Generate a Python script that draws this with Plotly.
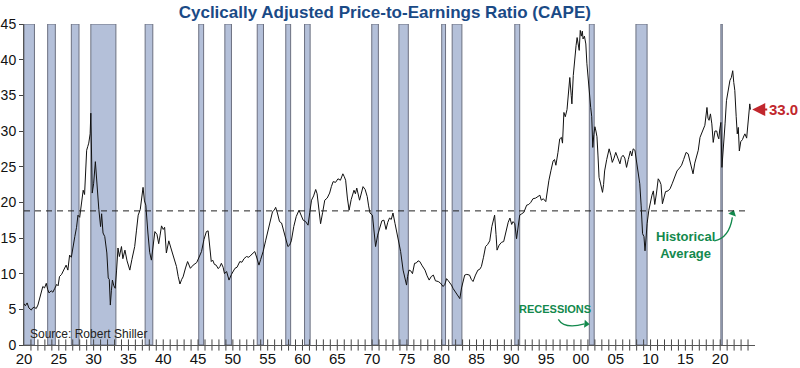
import plotly.graph_objects as go

# ---------------- data ----------------
years = [
    1920.0, 1920.2, 1920.45, 1920.7, 1921.05, 1921.25, 1921.5, 1921.75, 1922.0, 1922.3,
    1922.5, 1922.7, 1922.95, 1923.2, 1923.4, 1923.6, 1923.9, 1924.15, 1924.4, 1924.7,
    1924.9, 1925.1, 1925.4, 1925.6, 1925.85, 1926.05, 1926.3, 1926.55, 1926.8, 1927.05,
    1927.3, 1927.55, 1927.75, 1928.0, 1928.25, 1928.5, 1928.7, 1928.85, 1929.0, 1929.15,
    1929.3, 1929.5, 1929.6, 1929.8, 1930.0, 1930.25, 1930.5, 1930.75, 1931.0, 1931.15,
    1931.35, 1931.6, 1931.9, 1932.1, 1932.25, 1932.4, 1932.55, 1932.7, 1932.9, 1933.1,
    1933.3, 1933.5, 1933.7, 1934.0, 1934.2, 1934.5, 1934.8, 1935.2, 1935.5, 1935.9,
    1936.15, 1936.4, 1936.7, 1936.9, 1937.1, 1937.3, 1937.5, 1937.8, 1938.05, 1938.3,
    1938.55, 1938.8, 1939.1, 1939.35, 1939.55, 1939.75, 1940.0, 1940.2, 1940.45, 1940.8,
    1941.1, 1941.4, 1941.65, 1941.9, 1942.15, 1942.4, 1942.65, 1942.85, 1943.2, 1943.5,
    1943.9, 1944.3, 1944.8, 1945.15, 1945.5, 1945.85, 1946.2, 1946.45, 1946.65, 1946.9,
    1947.1, 1947.35, 1947.6, 1947.9, 1948.15, 1948.35, 1948.6, 1948.8, 1949.1, 1949.45,
    1949.8, 1950.05, 1950.3, 1950.6, 1951.0, 1951.3, 1951.6, 1951.95, 1952.3, 1952.6,
    1952.9, 1953.15, 1953.45, 1953.75, 1954.0, 1954.35, 1954.7, 1955.05, 1955.4, 1955.7,
    1955.95, 1956.15, 1956.4, 1956.7, 1957.0, 1957.3, 1957.6, 1957.9, 1958.15, 1958.4,
    1958.75, 1959.1, 1959.5, 1959.8, 1960.1, 1960.45, 1960.8, 1961.05, 1961.3, 1961.6,
    1961.9, 1962.1, 1962.35, 1962.6, 1962.9, 1963.2, 1963.55, 1963.9, 1964.15, 1964.4,
    1964.75, 1965.1, 1965.45, 1965.8, 1966.0, 1966.2, 1966.45, 1966.7, 1967.0, 1967.4,
    1967.6, 1967.8, 1968.2, 1968.45, 1968.7, 1969.0, 1969.3, 1969.5, 1969.7, 1970.05,
    1970.3, 1970.5, 1970.8, 1971.1, 1971.4, 1971.7, 1972.0, 1972.25, 1972.5, 1972.75,
    1973.0, 1973.3, 1973.6, 1973.85, 1974.1, 1974.45, 1974.7, 1974.95, 1975.1, 1975.3,
    1975.55, 1975.8, 1976.1, 1976.35, 1976.6, 1976.85, 1977.2, 1977.6, 1977.9, 1978.2,
    1978.5, 1978.8, 1979.1, 1979.5, 1979.8, 1980.2, 1980.45, 1980.7, 1980.95, 1981.2,
    1981.4, 1981.65, 1981.9, 1982.1, 1982.35, 1982.6, 1982.85, 1983.05, 1983.3, 1983.6,
    1984.0, 1984.25, 1984.5, 1984.85, 1985.2, 1985.45, 1985.7, 1986.0, 1986.3, 1986.6,
    1986.9, 1987.2, 1987.6, 1987.8, 1987.95, 1988.25, 1988.6, 1988.9, 1989.3, 1989.55,
    1989.8, 1990.05, 1990.25, 1990.5, 1990.75, 1990.95, 1991.2, 1991.5, 1991.8, 1992.2,
    1992.5, 1992.8, 1993.1, 1993.5, 1993.85, 1994.1, 1994.3, 1994.6, 1994.95, 1995.15,
    1995.4, 1995.7, 1996.0, 1996.2, 1996.4, 1996.7, 1996.95, 1997.2, 1997.35, 1997.55,
    1997.75, 1998.0, 1998.2, 1998.4, 1998.6, 1998.7, 1998.9, 1999.1, 1999.3, 1999.45,
    1999.6, 1999.75, 1999.9, 2000.05, 2000.2, 2000.3, 2000.5, 2000.7, 2000.85, 2001.0,
    2001.2, 2001.4, 2001.55, 2001.7, 2001.85, 2002.0, 2002.15, 2002.3, 2002.45, 2002.6,
    2002.8, 2003.1, 2003.25, 2003.4, 2003.7, 2004.05, 2004.3, 2004.5, 2004.75, 2005.0,
    2005.3, 2005.6, 2005.8, 2006.05, 2006.3, 2006.55, 2006.8, 2007.1, 2007.3, 2007.5,
    2007.75, 2007.9, 2008.05, 2008.25, 2008.45, 2008.65, 2008.85, 2009.05, 2009.2, 2009.35,
    2009.5, 2009.75, 2010.0, 2010.2, 2010.4, 2010.6, 2010.85, 2011.1, 2011.3, 2011.5,
    2011.7, 2011.9, 2012.15, 2012.5, 2012.8, 2013.1, 2013.5, 2013.8, 2014.15, 2014.45,
    2014.75, 2015.1, 2015.4, 2015.65, 2015.85, 2016.1, 2016.35, 2016.65, 2016.85, 2017.1,
    2017.5, 2017.8, 2018.1, 2018.25, 2018.4, 2018.6, 2018.8, 2019.0, 2019.25, 2019.5,
    2019.65, 2019.8, 2019.95, 2020.1, 2020.25, 2020.4, 2020.5, 2020.7, 2020.9, 2021.15,
    2021.4, 2021.6, 2021.8, 2021.95, 2022.1, 2022.3, 2022.45, 2022.6, 2022.75, 2022.95,
    2023.2, 2023.4, 2023.55, 2023.8, 2023.95, 2024.1, 2024.25, 2024.35,
]
cape = [
    5.8, 5.5, 5.9, 5.2, 4.9, 5.2, 5.3, 5.1, 5.6, 6.7,
    7.6, 8.2, 8.0, 8.65, 7.8, 7.3, 7.6, 7.4, 7.9, 8.5,
    8.3, 9.6, 9.9, 10.3, 10.75, 11.2, 10.5, 12.6, 12.3, 13.5,
    15.2, 16.5, 18.2, 17.9, 19.8, 21.7, 21.1, 24.0, 27.3, 27.8,
    28.3, 29.6, 32.5, 21.3, 22.6, 25.7, 21.7, 19.0, 16.6, 18.4,
    15.7, 15.2, 12.9, 9.4, 9.2, 5.6, 7.6, 9.1, 8.3, 7.95,
    10.5, 13.6, 12.4, 13.8, 12.1, 13.3, 11.8, 10.5, 12.0, 13.8,
    16.0, 18.2, 19.0, 20.6, 22.1, 20.2, 19.6, 15.7, 13.0, 11.9,
    13.8, 15.9, 15.5, 14.2, 15.4, 16.7, 16.2, 16.5, 12.9, 14.6,
    13.6, 12.6, 12.0, 11.0, 9.6, 8.55, 9.2, 9.55, 10.8, 11.7,
    10.75, 11.2, 11.55, 12.3, 13.1, 14.8, 15.9, 16.0, 13.6, 11.7,
    11.9, 11.3, 11.2, 10.7, 11.0, 11.45, 10.9, 10.0, 10.3, 9.1,
    9.9, 10.4, 10.75, 10.9, 11.7, 11.6, 12.1, 12.4, 12.3, 12.6,
    12.85, 13.1, 12.2, 11.2, 12.0, 13.1, 14.6, 15.9, 17.4, 18.7,
    18.9, 19.3, 18.5, 17.3, 17.1, 16.0, 15.2, 13.8, 14.0, 14.6,
    16.6, 18.0, 18.9, 18.2, 17.5, 17.3, 16.8, 18.6, 20.3, 20.9,
    21.8, 21.2, 19.0, 17.0, 18.6, 20.3, 20.6, 21.3, 22.2, 22.9,
    22.8, 23.3, 23.1, 24.0, 23.6, 23.1, 20.6, 18.9, 20.4, 21.7,
    21.2, 22.0, 20.3, 21.5, 22.2, 21.8, 20.8, 19.5, 18.5, 18.2,
    15.5, 13.8, 15.4, 16.6, 17.4, 17.5, 16.2, 17.2, 17.8, 17.6,
    18.5, 17.0, 15.7, 14.6, 13.1, 10.5, 9.2, 8.4, 9.6, 10.5,
    10.4, 10.0, 11.45, 11.5, 11.8, 11.7, 11.1, 10.5, 9.7, 9.1,
    9.6, 9.8, 9.0, 8.9, 8.7, 8.2, 8.5, 9.3, 9.0, 8.7,
    8.4, 7.9, 7.5, 7.3, 6.8, 6.5, 8.0, 9.0, 9.8, 9.9,
    9.8, 9.2, 8.9, 9.8, 10.5, 10.6, 11.0, 12.3, 13.8, 14.1,
    14.6, 16.6, 18.2, 15.5, 13.3, 14.0, 14.4, 14.5, 16.4, 17.2,
    17.8, 16.9, 17.3, 17.0, 14.9, 16.2, 18.2, 18.4, 18.6, 19.6,
    19.7, 20.0, 20.5, 20.6, 20.8, 21.0, 20.3, 20.5, 20.1, 21.5,
    23.1, 24.5, 25.8, 26.0, 25.2, 27.0, 28.9, 29.1, 28.3, 32.6,
    32.0, 33.0, 35.5, 37.5, 35.0, 33.8, 37.8, 40.6, 42.0, 43.1,
    41.9, 41.3, 44.1, 43.3, 44.0, 42.9, 43.3, 42.2, 39.5, 37.5,
    35.4, 33.3, 32.0, 27.7, 29.5, 30.6, 30.0, 29.2, 26.5, 23.5,
    22.7, 21.4, 22.5, 24.4, 26.0, 27.5, 26.6, 25.6, 26.2, 27.0,
    26.2, 25.4, 26.3, 26.6, 26.2, 24.9, 26.0, 27.2, 26.5, 27.5,
    27.3, 26.3, 25.4, 23.8, 22.6, 19.5, 15.6, 15.2, 13.2, 15.0,
    17.0, 18.9, 20.2, 21.0, 21.6, 19.7, 21.3, 23.3, 23.0, 22.5,
    19.8, 20.5, 21.5, 21.6, 21.9, 22.6, 23.5, 24.4, 24.8, 25.2,
    26.0, 27.0, 26.8, 25.8, 25.0, 24.0, 25.5, 26.8, 27.3, 29.1,
    30.0, 30.8, 33.3, 31.8, 31.5, 32.4, 31.0, 28.4, 30.0, 30.0,
    29.3, 28.9, 30.3, 31.2, 24.9, 27.5, 28.7, 31.0, 34.25, 35.6,
    37.1, 37.5, 38.45, 36.8, 35.7, 32.0, 29.6, 30.5, 27.2, 28.5,
    28.8, 29.3, 29.6, 29.0, 30.5, 32.4, 33.8, 33.0,
]

rec_start = [1920.0, 1923.4, 1926.8, 1929.6, 1937.4, 1945.1, 1948.85, 1953.5, 1957.6,
             1960.3, 1969.95, 1973.85, 1980.0, 1981.5, 1990.5, 2001.2, 2007.9, 2020.1]
rec_end = [1921.5, 1924.5, 1927.9, 1933.2, 1938.5, 1945.8, 1949.8, 1954.4, 1958.3,
           1961.1, 1970.9, 1975.2, 1980.55, 1982.9, 1991.2, 2001.9, 2009.5, 2020.3]

hist_avg = 18.8
latest_value = 33.0
major_ticks = list(range(1920, 2021, 5))
major_labels = [f"{y % 100:02d}" for y in major_ticks]
minor_ticks = list(range(1921, 2025))

FONT = "Arial, Liberation Sans, Helvetica, sans-serif"
GREEN = "#13894d"
RED = "#c1272d"
NAVY = "#1a4a86"

fig = go.Figure()

# yearly crossing tick marks along the x axis
fig.add_trace(go.Scatter(
    x=minor_ticks, y=[0] * len(minor_ticks), mode="markers",
    marker=dict(symbol="line-ns", size=8, line=dict(color="#444", width=1)),
    cliponaxis=False, hoverinfo="skip", showlegend=False))

# CAPE line
fig.add_trace(go.Scatter(
    x=years, y=cape, mode="lines",
    line=dict(color="#111", width=1),
    showlegend=False, hoverinfo="x+y"))

# arrowhead markers for the curved arrows
fig.add_trace(go.Scatter(
    x=[2021.8], y=[hist_avg - 0.35], mode="markers",
    marker=dict(symbol="triangle-up", size=7, angle=20, color=GREEN),
    cliponaxis=False, hoverinfo="skip", showlegend=False))
fig.add_trace(go.Scatter(
    x=[2000.75], y=[2.95], mode="markers",
    marker=dict(symbol="triangle-right", size=7, angle=5, color=GREEN),
    cliponaxis=False, hoverinfo="skip", showlegend=False))

shapes = []
for s, e in zip(rec_start, rec_end):
    shapes.append(dict(type="rect", xref="x", yref="y", x0=s, x1=e, y0=0, y1=45,
                       fillcolor="#b4c0d9", line=dict(color="#6c7080", width=1),
                       layer="below"))
shapes.append(dict(type="line", xref="x", yref="y", x0=1920, x1=2024, y0=hist_avg, y1=hist_avg,
                   line=dict(color="#222", width=1, dash="6px,5px")))
# curved arrow shafts
shapes.append(dict(type="path", xref="x", yref="y",
                   path="M 2019.15,14.6 Q 2021.3,15.0 2021.75,17.9",
                   line=dict(color=GREEN, width=1.3)))
shapes.append(dict(type="path", xref="x", yref="y",
                   path="M 1996.75,3.6 Q 1997.6,2.2 2000.5,2.95",
                   line=dict(color=GREEN, width=1.3)))
fig.update_layout(shapes=shapes)

annotations = [
    dict(x=2024.6, y=latest_value, xref="x", yref="y", text="<b>33.0</b>",
         showarrow=True, ax=31, ay=0, arrowhead=2, arrowsize=1.3, arrowwidth=2,
         arrowcolor=RED, font=dict(color=RED, size=15, family=FONT)),
    dict(x=2014.95, y=13.95, xref="x", yref="y", text="<b>Historical<br>Average</b>",
         showarrow=False, font=dict(color=GREEN, size=13, family=FONT), align="center"),
    dict(x=1996.25, y=5.05, xref="x", yref="y", text="<b>RECESSIONS</b>",
         showarrow=False, font=dict(color=GREEN, size=11, family=FONT)),
    dict(x=1920.55, y=1.55, xref="x", yref="y", text="Source: Robert Shiller",
         showarrow=False, xanchor="left", font=dict(color="#222", size=12, family=FONT)),
]

fig.update_layout(
    width=800, height=368,
    margin=dict(l=24, r=45, t=24, b=23),
    paper_bgcolor="white", plot_bgcolor="white",
    font=dict(family=FONT, color="#111"),
    title=dict(text="<b>Cyclically Adjusted Price-to-Earnings Ratio (CAPE)</b>",
               x=0.481, xanchor="center", xref="container",
               y=0.967, yanchor="middle", yref="container",
               font=dict(size=17, color=NAVY, family=FONT)),
    xaxis=dict(range=[1920, 2025], showgrid=False, zeroline=False, automargin=False,
               showline=True, linecolor="#555", linewidth=1,
               tickmode="array", tickvals=major_ticks, ticktext=major_labels,
               ticks="", tickfont=dict(size=15, color="#111")),
    yaxis=dict(range=[0, 45], showgrid=False, zeroline=False, automargin=False,
               showline=True, linecolor="#555", linewidth=1,
               tickmode="array", tickvals=list(range(0, 46, 5)),
               ticks="outside", ticklen=4, tickcolor="#444",
               tickfont=dict(size=14, color="#111")),
    annotations=annotations,
)

fig.write_html("out.html")
